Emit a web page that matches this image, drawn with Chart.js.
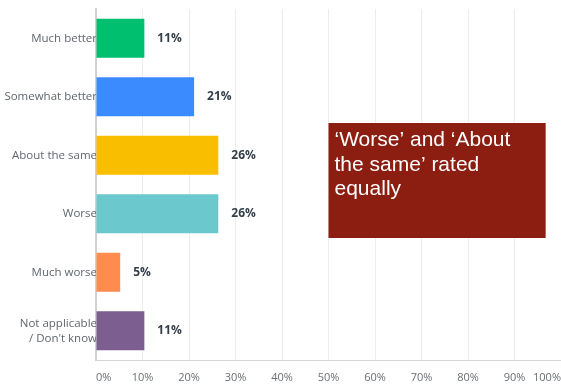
<!DOCTYPE html>
<html>
<head>
<meta charset="utf-8">
<script src="https://cdn.jsdelivr.net/npm/chart.js@4"></script>
<style>
  html, body { margin: 0; padding: 0; background: #fff; overflow: hidden; }
  #wrap { width: 561px; height: 387px; position: relative; }
</style>
</head>
<body>
<div id="wrap"><canvas id="chart"></canvas></div>
<script>
const categories = [
  "Much better",
  "Somewhat better",
  "About the same",
  "Worse",
  "Much worse",
  ["Not applicable", "/ Don't know"],
];
const values = [10.4, 21.1, 26.3, 26.3, 5.2, 10.4];
const valueLabels = ["11%", "21%", "26%", "26%", "5%", "11%"];
const barColors = ["#00bf6f", "#3b8bff", "#f9be00", "#6bc8cd", "#ff8b4f", "#7d5e90"];
const xTicks = [0, 10, 20, 30, 40, 50, 60, 70, 80, 90, 100];
const noteLines = ["\u2018Worse\u2019 and \u2018About", "the same\u2019 rated", "equally"];

// percent text after each bar
const valueLabelPlugin = {
  id: "valueLabels",
  afterDatasetsDraw(chart) {
    const ctx = chart.ctx;
    const meta = chart.getDatasetMeta(0);
    ctx.save();
    ctx.font = "bold 12px 'Open Sans'";
    ctx.fillStyle = "#333e48";
    ctx.textAlign = "left";
    ctx.textBaseline = "middle";
    meta.data.forEach((bar, i) => {
      ctx.fillText(valueLabels[i], bar.x + 13, bar.y);
    });
    ctx.restore();
  },
};

// red callout box
const notePlugin = {
  id: "note",
  afterDraw(chart) {
    const ctx = chart.ctx;
    const x = chart.scales.x;
    const left = x.getPixelForValue(50);
    const right = x.getPixelForValue(96.7);
    ctx.save();
    ctx.fillStyle = "#8b1e11";
    ctx.fillRect(left, 123, right - left, 115);
    ctx.fillStyle = "#ffffff";
    ctx.font = "21px 'Liberation Sans', Arial";
    ctx.textBaseline = "alphabetic";
    noteLines.forEach((t, i) => {
      ctx.fillText(t, left + 6, 146 + i * 24.5);
    });
    ctx.restore();
  },
};

new Chart(document.getElementById("chart"), {
  type: "bar",
  data: {
    labels: categories,
    datasets: [
      {
        data: values,
        backgroundColor: barColors,
        borderWidth: 0,
        barPercentage: 0.67,
        categoryPercentage: 1,
      },
    ],
  },
  options: {
    indexAxis: "y",
    responsive: true,
    maintainAspectRatio: false,
    animation: false,
    layout: { padding: { top: 9, right: 0, bottom: 0, left: 0 } },
    plugins: {
      legend: { display: false },
      tooltip: { enabled: false },
    },
    scales: {
      x: {
        min: 0,
        max: 100,
        afterBuildTicks: (scale) => {
          scale.ticks = xTicks.map((v) => ({ value: v }));
        },
        afterFit: (scale) => {
          scale.height = 27;
          scale.paddingLeft = 0;
          scale.paddingRight = 0;
        },
        grid: { color: "#ececec", drawTicks: false },
        border: { color: "#d6d6d6", width: 1 },
        ticks: {
          align: "inner",
          padding: 11,
          color: "#6a6f74",
          font: { family: "'Open Sans'", size: 11 },
          callback: (v) => v + "%",
        },
      },
      y: {
        afterFit: (scale) => {
          scale.width = 96;
          scale.paddingTop = 0;
          scale.paddingBottom = 0;
        },
        grid: { display: false, drawTicks: false },
        border: { color: "#d0d0d0", width: 2 },
        ticks: {
          padding: -1,
          color: "#5f666d",
          font: { family: "'Open Sans'", size: 11.5, lineHeight: 1.3 },
        },
      },
    },
  },
  plugins: [valueLabelPlugin, notePlugin],
});
</script>
</body>
</html>
